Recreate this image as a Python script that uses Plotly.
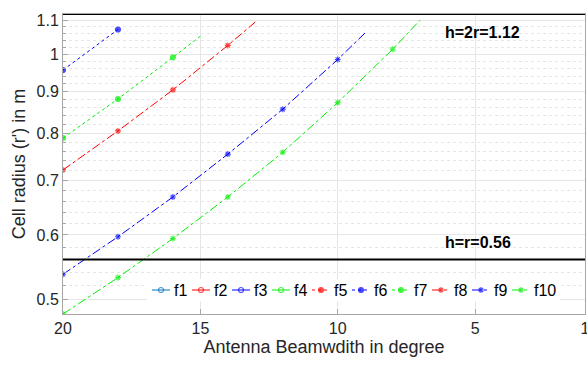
import plotly.graph_objects as go

# Antenna beamwidth (degree) sample points and cell radius values
x_f6 = [20, 18]
y_f6 = [0.956, 1.072]
x_f7 = [20, 18, 16, 15]
y_f7 = [0.789, 0.881, 0.991, 1.052]
x_f8 = [20, 18, 16, 14, 13]
y_f8 = [0.721, 0.805, 0.904, 1.025, 1.095]
x_f9 = [20, 18, 16, 14, 12, 10, 9]
y_f9 = [0.537, 0.597, 0.668, 0.754, 0.856, 0.985, 1.062]
x_f10 = [20, 18, 16, 14, 12, 10, 8, 7]
y_f10 = [0.480, 0.532, 0.594, 0.668, 0.758, 0.872, 1.014, 1.101]

legend_names = ["f1", "f2", "f3", "f4", "f5", "f6", "f7", "f8", "f9", "f10"]
x_ticks = [20, 15, 10, 5, 1]
y_ticks = [0.5, 0.6, 0.7, 0.8, 0.9, 1.0, 1.1]
y_ticklabels = ["0.5", "0.6", "0.7", "0.8", "0.9", "1", "1.1"]
h_lines = [1.12, 0.56]
h_labels = ["h=2r=1.12", "h=r=0.56"]

RED = "#ff0000"
BLUE = "#0000ff"
GREEN = "#00ee00"
MBLUE = "#0072BD"

styles = {
    "f1": (MBLUE, "solid", "circle-open"),
    "f2": (RED, "solid", "circle-open"),
    "f3": (BLUE, "solid", "circle-open"),
    "f4": (GREEN, "solid", "circle-open"),
    "f5": (RED, "dot", "circle"),
    "f6": (BLUE, "dot", "circle"),
    "f7": (GREEN, "dot", "circle"),
    "f8": (RED, "dashdot", "asterisk-open"),
    "f9": (BLUE, "dashdot", "asterisk-open"),
    "f10": (GREEN, "dashdot", "asterisk-open"),
}

def msizes(xs, s):
    return [s if (x % 2 == 0) else 0 for x in xs]

fig = go.Figure()
series = [("f6", x_f6, y_f6), ("f7", x_f7, y_f7), ("f8", x_f8, y_f8),
          ("f9", x_f9, y_f9), ("f10", x_f10, y_f10)]
for name, xs, ys in series:
    col, dash, sym = styles[name]
    fig.add_trace(go.Scatter(x=xs, y=ys, name=name, mode="lines+markers", showlegend=False,
                             line=dict(color=col, width=1, dash=dash),
                             marker=dict(symbol=sym, size=msizes(xs, 5),
                                         color=col, line=dict(color=col, width=1.2))))

for yv in h_lines:
    fig.add_shape(type="line", xref="paper", x0=0, x1=1, yref="y", y0=yv, y1=yv,
                  line=dict(color="black", width=2))

fig.add_annotation(text="<b>" + h_labels[0] + "</b>", xref="paper", yref="paper", x=0.728, y=0.94,
                   xanchor="left", yanchor="middle", showarrow=False,
                   font=dict(size=16, color="black", family="Liberation Sans, Arial"))
fig.add_annotation(text="<b>" + h_labels[1] + "</b>", xref="paper", yref="paper", x=0.728, y=0.237,
                   xanchor="left", yanchor="middle", showarrow=False,
                   font=dict(size=16, color="black", family="Liberation Sans, Arial"))

# ---- compact legend drawn on an overlay pixel-space axis ----
LX0, LY = 152, 290
fig.add_trace(go.Scatter(x=[147, 560, 560, 147, 147], y=[279, 279, 301, 301, 279],
                         xaxis="x2", yaxis="y2", mode="lines", fill="toself",
                         fillcolor="white", line=dict(width=0), showlegend=False, hoverinfo="skip"))
for i, name in enumerate(legend_names):
    col, dash, sym = styles[name]
    x0 = LX0 + 40 * i
    fig.add_trace(go.Scatter(x=[x0, x0 + 9, x0 + 18], y=[LY, LY, LY], xaxis="x2", yaxis="y2",
                             mode="lines+markers", showlegend=False, hoverinfo="skip",
                             line=dict(color=col, width=1, dash=dash),
                             marker=dict(symbol=sym, size=[0, 5, 0],
                                         color=col, line=dict(color=col, width=1.2))))
    fig.add_annotation(text=name, xref="x2", yref="y2", x=x0 + 20, y=LY, xanchor="left",
                       yanchor="middle", showarrow=False,
                       font=dict(size=16, color="black", family="Liberation Sans, Arial"))

minor_vals = [round(0.48 + 0.02 * i, 2) for i in range(33)]
minor_vals = [v for v in minor_vals if all(abs(v - t) > 1e-6 for t in y_ticks)]

fig.update_layout(
    width=587, height=368,
    margin=dict(l=63, r=2, t=14, b=54),
    paper_bgcolor="white", plot_bgcolor="white",
    font=dict(family="Liberation Sans, Arial", size=16, color="#262626"),
    showlegend=False,
    xaxis=dict(range=[20, 1], tickvals=x_ticks, ticktext=[str(v) for v in x_ticks],
               showgrid=True, gridcolor="#e6e6e6", gridwidth=1, automargin=False,
               showline=True, linecolor="#a6a6a6", linewidth=1, mirror=True,
               ticks="inside", ticklen=5, tickcolor="#a6a6a6", zeroline=False,
               ticklabeloverflow="allow",
               title=dict(text="Antenna Beamwdith in degree", font=dict(size=18, color="#262626"), standoff=4),
               tickfont=dict(size=16, color="#262626")),
    yaxis=dict(type="log", range=[-0.31876, 0.04922], tickvals=y_ticks, ticktext=y_ticklabels,
               showgrid=True, gridcolor="#e6e6e6", gridwidth=1, automargin=False,
               showline=True, linecolor="#a6a6a6", linewidth=1, mirror=True,
               ticks="inside", ticklen=5, tickcolor="#a6a6a6", zeroline=False,
               minor=dict(tickmode="array", tickvals=minor_vals, showgrid=True, gridcolor="#e6e6e6",
                          griddash="dot", ticks="inside", ticklen=3, tickcolor="#a6a6a6"),
               title=dict(text="Cell radius (r') in m", font=dict(size=18, color="#262626"), standoff=6),
               tickfont=dict(size=16, color="#262626")),
    xaxis2=dict(overlaying="x", range=[63, 585], visible=False, fixedrange=True),
    yaxis2=dict(overlaying="y", range=[314, 14], visible=False, fixedrange=True),
)

fig.write_html("out.html", config={"displayModeBar": False},
               post_script="document.body.style.margin='0px';")
